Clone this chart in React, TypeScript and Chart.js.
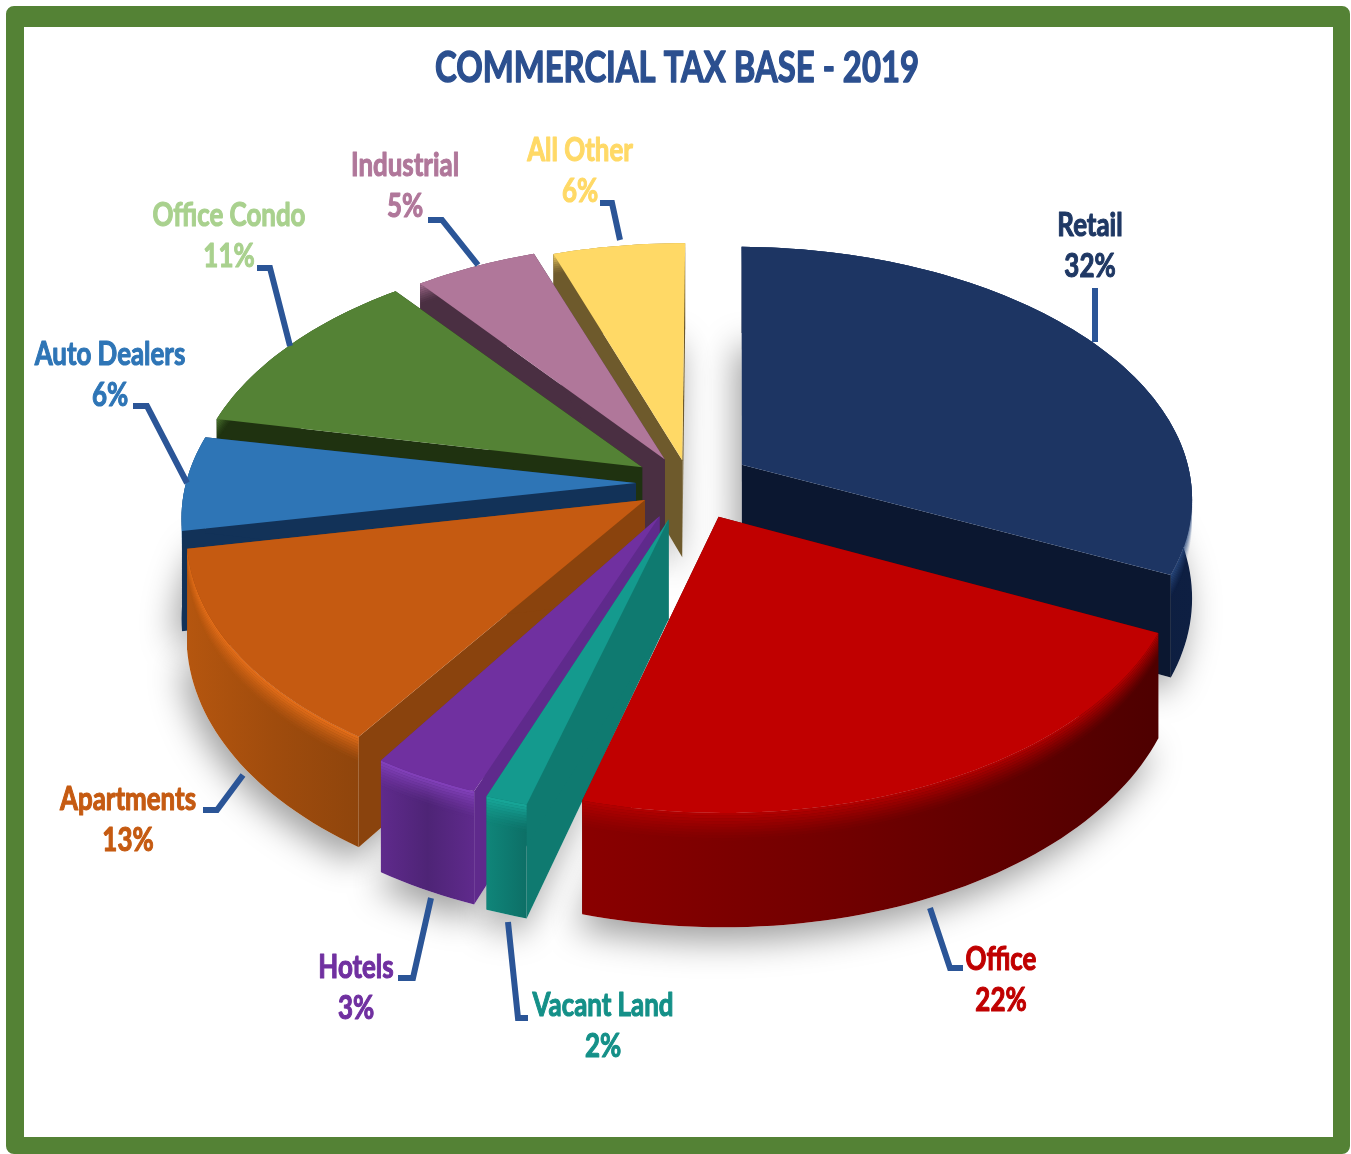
import React, { useEffect, useRef } from "react";
import { Chart, registerables } from "chart.js";

Chart.register(...registerables);

const chartTitle = "COMMERCIAL TAX BASE - 2019";
const categories = ["Retail", "Office", "Vacant Land", "Hotels", "Apartments", "Auto Dealers", "Office Condo", "Industrial", "All Other"];
const shares = [32, 22, 2, 3, 13, 6, 11, 5, 6];
const explode = [62, 66, 68, 66, 54, 54, 56, 50, 42];
// small hand-drawn departures of each slice's edges from the true angle, in degrees
const startTwist = [0.8, 0, 1, -1.2, 1.2, 0, 0.8, 2, 2.6];
const endTwist = [0, 1.2, -1.5, 0, 0, 0, 1.5, 2, 0.3];
const topColors = ["#1D3563", "#C00000", "#149A8E", "#7030A0", "#C55A11", "#2E75B6", "#548235", "#B0779A", "#FFD966"];
const faceColors = ["#0B1730", "#5A0000", "#0F7A70", "#5F2A8C", "#8A430D", "#123258", "#1F3210", "#4A2F42", "#6E5A2C"];
const wallColors = [
  ["#0B1A38", "#0B1A38", "#0E1F42"],
  ["#8A0000", "#6E0000", "#4E0000"],
  ["#108579", "#0E7A70", "#0D6F66"],
  ["#5F2A8C", "#4E2476", "#5F2A8C"],
  ["#B5560F", "#A04C0D", "#8F450C"],
  ["#123258", "#123258", "#123258"],
  ["#1F3210", "#1F3210", "#1F3210"],
  ["#4A2F42", "#4A2F42", "#4A2F42"],
  ["#6E5A2C", "#6E5A2C", "#6E5A2C"],
];
const rimColors = ["#2A4A80", "#B40000", "#18A89A", "#8442BC", "#E8701A", "#2E75B6", "#548235", "#B0779A", "#FFD966"];
const labelColors = ["#1F3864", "#C00000", "#149088", "#7030A0", "#C55A11", "#2E75B6", "#A9D18E", "#B0779A", "#FFD966"];
const labelAt = [[1090, 226], [1001, 960], [603, 1006], [356, 968], [128, 800], [110, 355], [229, 216], [405, 166], [580, 151]];
const leaders = [
  [[1095, 288], [1095, 342]],
  [[930, 908], [950, 968], [963, 968]],
  [[508, 922], [518, 1018], [528, 1018]],
  [[431, 898], [413, 978], [398, 978]],
  [[243, 775], [217, 810], [203, 810]],
  [[187, 483], [147, 406], [133, 406]],
  [[290, 346], [270, 268], [257, 268]],
  [[478, 265], [442, 220], [428, 220]],
  [[620, 240], [612, 203], [600, 203]],
];
const paintOrder = [8, 7, 6, 5, 0, 4, 3, 2, 1];

const CX = 690, CY = 483, RADIUS = 450, SQUASH = 0.555, PERSP = 0.00028, DEPTH = 98;
const FONT = 'Lato, "Open Sans", sans-serif';
const DEG = Math.PI / 180;

function project(off: number, mid: number, rho: number, theta: number, z: number) {
  const u = off * Math.sin(mid) + rho * Math.sin(theta);
  const v = off * Math.cos(mid) + rho * Math.cos(theta);
  const s = 1 / (1 + PERSP * v);
  return [CX + u * s, CY - SQUASH * v * s + z * s];
}

function poly(ctx: CanvasRenderingContext2D, pts: number[][]) {
  ctx.beginPath();
  pts.forEach((p, i) => (i ? ctx.lineTo(p[0], p[1]) : ctx.moveTo(p[0], p[1])));
  ctx.closePath();
}

function boldText(ctx: CanvasRenderingContext2D, text: string, x: number, y: number, sx: number, weight: number) {
  ctx.save();
  ctx.translate(x, y);
  ctx.scale(sx, 1);
  ctx.lineWidth = weight;
  ctx.lineJoin = "round";
  ctx.strokeText(text, 0, 0);
  ctx.fillText(text, 0, 0);
  ctx.restore();
}

const pie3d = {
  id: "pie3d",
  beforeDatasetsDraw(chart: any) {
    const ctx: CanvasRenderingContext2D = chart.ctx;
    const arcs = chart.getDatasetMeta(0).data;
    const slices = arcs.map((arc: any, i: number) => {
      const mid = (arc.startAngle + arc.endAngle) / 2 + Math.PI / 2;
      const a0 = arc.startAngle + Math.PI / 2 + startTwist[i] * DEG;
      const a1 = arc.endAngle + Math.PI / 2 + endTwist[i] * DEG;
      const off = arc.options.offset;
      const n = Math.max(4, Math.ceil((a1 - a0) * 40));
      const at = (z: number) => {
        const r: number[][] = [];
        for (let j = 0; j <= n; j++) r.push(project(off, mid, RADIUS, a0 + ((a1 - a0) * j) / n, z));
        return r;
      };
      return { a0, a1, mid, off, at };
    });

    // soft ground shadow
    ctx.save();
    ctx.shadowColor = "rgba(0,0,0,0.38)";
    ctx.shadowBlur = 34;
    ctx.shadowOffsetX = -6;
    ctx.shadowOffsetY = 14;
    ctx.fillStyle = "#ffffff";
    slices.forEach((s: any) => {
      const apex = project(s.off, s.mid, 0, 0, DEPTH);
      poly(ctx, [apex, ...s.at(DEPTH)]);
      ctx.fill();
    });
    ctx.restore();

    paintOrder.forEach((i) => {
      const s = slices[i];
      const top = s.at(0);
      const bottom = s.at(DEPTH);
      const apexT = project(s.off, s.mid, 0, 0, 0);
      const apexB = project(s.off, s.mid, 0, 0, DEPTH);

      // radial faces
      ctx.fillStyle = faceColors[i];
      poly(ctx, [apexT, top[0], bottom[0], apexB]);
      ctx.fill();
      poly(ctx, [apexT, top[top.length - 1], bottom[bottom.length - 1], apexB]);
      ctx.fill();

      // outer wall
      const xs = top.map((p: number[]) => p[0]);
      const xMin = Math.min(...xs), xMax = Math.max(...xs);
      const grad = ctx.createLinearGradient(xMin, 0, xMax, 0);
      grad.addColorStop(0, wallColors[i][0]);
      grad.addColorStop(0.5, wallColors[i][1]);
      grad.addColorStop(1, wallColors[i][2]);
      ctx.fillStyle = grad;
      poly(ctx, [...top, ...bottom.slice().reverse()]);
      ctx.fill();

      // rounded rim highlight
      const bands = 10;
      ctx.fillStyle = rimColors[i];
      for (let b = 0; b < bands; b++) {
        ctx.globalAlpha = Math.pow(1 - (b + 0.5) / bands, 1.4);
        poly(ctx, [...s.at((b * 24) / bands), ...s.at(((b + 1) * 24) / bands).reverse()]);
        ctx.fill();
      }
      ctx.globalAlpha = 1;

      // top face
      ctx.fillStyle = topColors[i];
      poly(ctx, [apexT, ...top]);
      ctx.fill();
    });
    return false;
  },
  afterDraw(chart: any) {
    const ctx: CanvasRenderingContext2D = chart.ctx;
    ctx.save();
    ctx.strokeStyle = "#2B5597";
    ctx.lineWidth = 6;
    ctx.lineJoin = "miter";
    leaders.forEach((line) => {
      ctx.beginPath();
      line.forEach((p, j) => (j ? ctx.lineTo(p[0], p[1]) : ctx.moveTo(p[0], p[1])));
      ctx.stroke();
    });
    ctx.textAlign = "center";
    ctx.textBaseline = "middle";

    ctx.font = `bold 42px ${FONT}`;
    ctx.fillStyle = "#2B4F8F";
    ctx.strokeStyle = "#2B4F8F";
    boldText(ctx, chartTitle, 677, 68, 484 / ctx.measureText(chartTitle).width, 1.4);

    ctx.font = `bold 32px ${FONT}`;
    const sx = 153 / ctx.measureText("Office Condo").width;
    categories.forEach((name, i) => {
      ctx.fillStyle = labelColors[i];
      ctx.strokeStyle = labelColors[i];
      boldText(ctx, name, labelAt[i][0], labelAt[i][1], sx, 1.1);
      boldText(ctx, `${shares[i]}%`, labelAt[i][0], labelAt[i][1] + 41, sx, 1.1);
    });
    ctx.restore();
  },
};

export default function App() {
  const ref = useRef<HTMLCanvasElement>(null);
  useEffect(() => {
    const chart = new Chart(ref.current as HTMLCanvasElement, {
      type: "pie",
      data: {
        labels: categories,
        datasets: [{ data: shares, backgroundColor: topColors, offset: explode, borderWidth: 0 }],
      },
      options: {
        animation: false,
        responsive: false,
        devicePixelRatio: 1,
        plugins: {
          legend: { display: false },
          tooltip: { enabled: false },
        },
      },
      plugins: [pie3d],
    } as any);
    return () => chart.destroy();
  }, []);
  return (
    <div style={{ position: "fixed", left: 0, top: 0, width: 1351, height: 1154, overflow: "hidden", background: "#fff" }}>
      <div
        style={{
          position: "absolute", left: 6, top: 6, width: 1344, height: 1148, boxSizing: "border-box",
          borderStyle: "solid", borderColor: "#548235", borderWidth: "21px 17px 17px 18px", borderRadius: 8,
        }}
      />
      <canvas ref={ref} width={1351} height={1154} style={{ position: "absolute", left: 0, top: 0, display: "block" }} />
    </div>
  );
}
